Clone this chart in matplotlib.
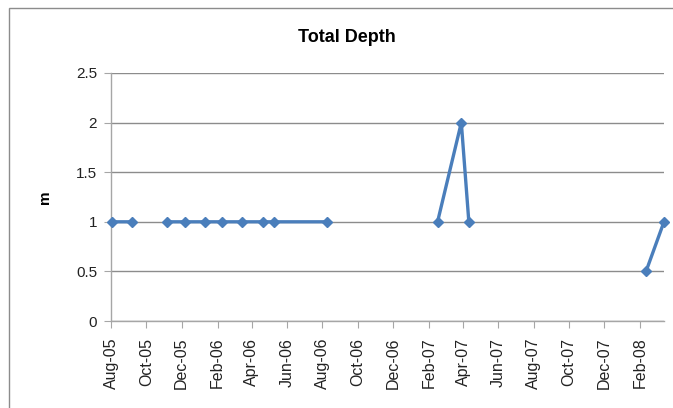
#!/usr/bin/env python3
import matplotlib
matplotlib.use('Agg')
import matplotlib.pyplot as plt
import matplotlib.dates as mdates
from matplotlib.patches import Rectangle
import numpy as np
import pandas as pd

# Sampling dates and total depth (m); NaN rows are missing readings (gaps in the line)
dates = ['2005-08-02', '2005-09-06', '2005-10-06',
         '2005-11-06', '2005-12-07', '2006-01-10', '2006-02-09',
         '2006-03-16', '2006-04-21', '2006-05-10', '2006-08-09',
         '2006-11-01',
         '2007-02-16', '2007-03-29', '2007-04-11',
         '2007-09-01',
         '2008-02-11', '2008-03-13']
depth = [1, 1, np.nan,
         1, 1, 1, 1,
         1, 1, 1, 1,
         np.nan,
         1, 2, 1,
         np.nan,
         0.5, 1]

y_ticks = [0, 0.5, 1, 1.5, 2, 2.5]

x = pd.to_datetime(dates)
y = np.array(depth, dtype=float)

plt.rcParams['font.family'] = ['Liberation Sans', 'DejaVu Sans']

fig = plt.figure(figsize=(6.73, 4.08), dpi=100)
ax = fig.add_axes([0.1649, 0.2132, 0.9866 - 0.1649, 0.8211 - 0.2132])

# chart frame
fig.add_artist(Rectangle((9 / 673, -0.01), 1.0, (408 - 8) / 408 + 0.01,
                         transform=fig.transFigure, fill=False,
                         edgecolor='#8c8c8c', linewidth=1.0, clip_on=False))

ax.plot(x, y, color='#4a7ebb', linewidth=2.4, marker='D', markersize=5.5,
        markerfacecolor='#4a7ebb', markeredgecolor='#4a7ebb', clip_on=False, zorder=3)

ax.set_ylim(0, 2.5)
ax.set_yticks(y_ticks)
ax.set_yticklabels(['0', '0.5', '1', '1.5', '2', '2.5'])
ax.set_xlim(pd.Timestamp('2005-08-01'), pd.Timestamp('2008-03-13'))
ax.xaxis.set_major_locator(mdates.MonthLocator(bymonth=[2, 4, 6, 8, 10, 12]))
ax.xaxis.set_major_formatter(mdates.DateFormatter('%b-%y'))
plt.setp(ax.get_xticklabels(), rotation=90)

ax.grid(axis='y', color='#8c8c8c', linewidth=1.0)
ax.set_axisbelow(True)
for side in ['top', 'right']:
    ax.spines[side].set_visible(False)
for side in ['left', 'bottom']:
    ax.spines[side].set_color('#a6a6a6')
    ax.spines[side].set_linewidth(1.0)
ax.tick_params(axis='both', direction='out', length=5, color='#a6a6a6',
               labelsize=11, labelcolor='#222222')
ax.tick_params(axis='x', pad=7, labelsize=11.5)
ax.tick_params(axis='y', pad=5)

ax.set_ylabel('m', fontsize=11, fontweight='bold', labelpad=17)
fig.text(0.516, 0.908, 'Total Depth', ha='center', va='center',
         fontsize=13, fontweight='bold')

plt.savefig('out.png', dpi=100)
plt.close()
